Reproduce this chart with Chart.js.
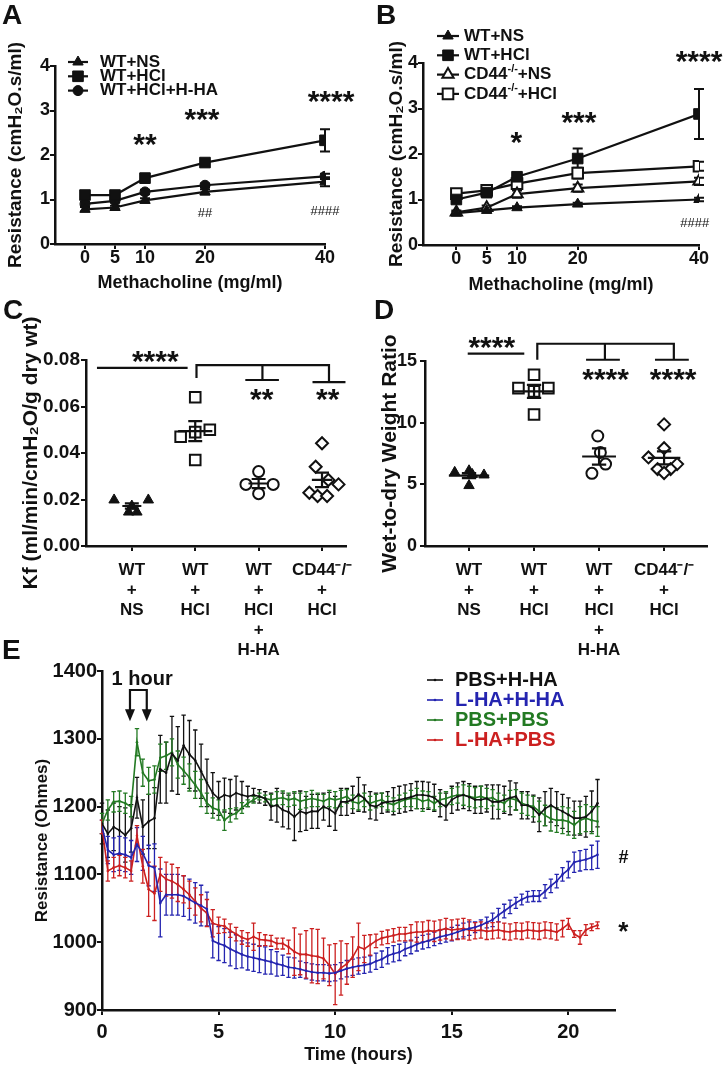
<!DOCTYPE html>
<html>
<head>
<meta charset="utf-8">
<script src="https://cdn.jsdelivr.net/npm/chart.js@4.4.1/dist/chart.umd.min.js"></script>
<style>
html,body{margin:0;padding:0;background:#fff}
body{position:relative;width:723px;height:1067px;overflow:hidden}
canvas{position:absolute}
.pl{position:absolute;font:bold 28px "Liberation Sans",Arial,sans-serif;color:#111;line-height:28px}
</style>
</head>
<body>
<canvas id="cA" width="362" height="300" style="left:0;top:0"></canvas>
<canvas id="cB" width="361" height="300" style="left:362px;top:0"></canvas>
<canvas id="cC" width="362" height="370" style="left:0;top:300px"></canvas>
<canvas id="cD" width="361" height="370" style="left:362px;top:300px"></canvas>
<canvas id="cE" width="723" height="477" style="left:0;top:590px"></canvas>
<div class="pl" style="left:2px;top:1px">A</div>
<div class="pl" style="left:376px;top:1px">B</div>
<div class="pl" style="left:3px;top:296px">C</div>
<div class="pl" style="left:374px;top:296px">D</div>
<div class="pl" style="left:2px;top:636px">E</div>
<script>
// ---------------- DATA ----------------
// Panels A & B: airway resistance vs methacholine dose
const doses = [0, 5, 10, 20, 40];
const aWTNS = [0.78, 0.82, 0.98, 1.17, 1.40];
const aWTNSErr = [0.05, 0.04, 0.05, 0.06, 0.10];
const aWTHCl = [1.10, 1.10, 1.48, 1.83, 2.33];
const aWTHClErr = [0.06, 0.06, 0.10, 0.08, 0.25];
const aWTHClHHA = [0.90, 0.97, 1.17, 1.32, 1.52];
const aWTHClHHAErr = [0.05, 0.04, 0.05, 0.04, 0.06];

const bWTNS = [0.70, 0.76, 0.82, 0.90, 1.00];
const bWTNSErr = [0.03, 0.03, 0.03, 0.03, 0.04];
const bWTHCl = [1.00, 1.15, 1.50, 1.90, 2.88];
const bWTHClErr = [0.05, 0.06, 0.08, 0.22, 0.55];
const bCDNS = [0.72, 0.82, 1.12, 1.25, 1.40];
const bCDNSErr = [0.04, 0.05, 0.08, 0.08, 0.08];
const bCDHCl = [1.13, 1.20, 1.35, 1.58, 1.73];
const bCDHClErr = [0.06, 0.06, 0.08, 0.12, 0.10];

// Panels C & D: groups
const groupPos = [0, 1, 2, 3];
const groupLabels = [['WT','+','NS'], ['WT','+','HCl'], ['WT','+','HCl','+','H-HA'], ['CD44⁻/⁻','+','HCl']];
const kfWTNS = [0.0198, 0.0146, 0.0146, 0.0198, 0.0172];
const kfWTNSJit = [-0.28, -0.05, 0.08, 0.26, 0];
const kfWTHCl = [0.064, 0.047, 0.049, 0.050, 0.037];
const kfWTHClJit = [0, -0.23, 0, 0.23, 0];
const kfHHA = [0.032, 0.0265, 0.0265, 0.0225];
const kfHHAJit = [0, -0.2, 0.23, 0];
const kfCD44 = [0.0442, 0.0341, 0.0284, 0.0265, 0.0229, 0.0215, 0.0215];
const kfCD44Jit = [0, -0.1, 0.1, 0.26, -0.2, -0.07, 0.08];

const wdWTNS = [5.97, 6.10, 5.76, 4.90, 5.80];
const wdWTNSJit = [-0.22, 0, 0.23, 0, 0.05];
const wdWTHCl = [13.88, 12.80, 12.80, 12.54, 10.66];
const wdWTHClJit = [0, -0.24, 0.22, 0, 0];
const wdHHA = [8.92, 7.58, 6.64, 5.89];
const wdHHAJit = [-0.02, 0.02, 0.1, -0.11];
const wdCD44 = [9.86, 7.93, 7.18, 6.64, 6.24, 6.24, 5.92];
const wdCD44Jit = [0, 0, -0.24, 0.2, -0.1, 0.1, 0];

// Panel E: resistance over time
const timeHours = [0,0.25,0.5,0.75,1,1.25,1.5,1.75,2,2.25,2.5,2.75,3,3.25,3.5,3.75,4,4.25,4.5,4.75,
 5,5.25,5.5,5.75,6,6.25,6.5,6.75,7,7.25,7.5,7.75,8,8.25,8.5,8.75,9,9.25,9.5,9.75,
 10,10.25,10.5,10.75,11,11.25,11.5,11.75,12,12.25,12.5,12.75,13,13.25,13.5,13.75,14,14.25,14.5,14.75,
 15,15.25,15.5,15.75,16,16.25,16.5,16.75,17,17.25,17.5,17.75,18,18.25,18.5,18.75,19,19.25,19.5,19.75,
 20,20.25,20.5,20.75,21,21.25];
const eTicks = [0, 5, 10, 15, 20];
const ePbsHha = [1175,1160,1170,1165,1158,1168,1213,1170,1178,1183,
 1255,1250,1278,1268,1290,1277,1268,1252,1235,1220,
 1212,1217,1215,1220,1217,1215,1217,1215,1212,1200,
 1202,1195,1192,1185,1193,1190,1193,1193,1200,1196,
 1190,1207,1207,1210,1218,1212,1202,1200,1205,1207,
 1208,1210,1212,1214,1217,1217,1216,1213,1205,1200,
 1210,1215,1217,1214,1210,1210,1212,1207,1207,1210,
 1213,1215,1202,1202,1197,1188,1197,1202,1197,1193,
 1188,1183,1183,1185,1193,1205];
const ePbsHhaErr = [30,35,35,35,40,35,30,40,40,45,
 50,45,55,50,45,50,45,40,35,30,
 25,25,25,25,20,15,10,10,10,20,
 25,25,25,35,30,25,25,25,20,25,
 25,20,20,20,25,20,20,20,15,15,
 20,20,20,20,20,20,20,20,20,20,
 20,20,20,20,20,20,20,25,25,20,
 25,20,20,20,20,25,25,25,25,25,
 25,25,25,30,30,35];
const eLhaHha = [1170,1136,1129,1131,1129,1125,1144,1131,1113,1110,
 1058,1070,1070,1070,1068,1063,1058,1054,1049,1002,
 998,995,990,986,982,979,977,975,973,971,
 968,966,963,962,960,958,956,955,955,954,
 955,958,961,963,965,966,968,972,975,980,
 983,985,990,993,997,1000,1002,1005,1008,1010,
 1012,1015,1018,1020,1022,1025,1029,1033,1040,1046,
 1052,1058,1063,1067,1068,1068,1075,1083,1090,1100,
 1107,1118,1120,1122,1125,1129];
const eLhaHhaErr = [10,20,25,25,25,25,25,25,30,35,
 50,30,30,30,30,30,30,30,25,25,
 25,25,25,25,20,20,20,20,20,18,
 18,15,15,15,12,12,12,12,12,12,
 12,12,12,12,12,12,12,12,12,12,
 12,12,10,10,10,10,10,10,10,10,
 10,10,10,10,8,8,8,10,10,10,
 10,8,8,8,8,8,10,10,10,10,
 12,15,15,15,18,20];
const ePbsPbs = [1175,1195,1207,1208,1205,1200,1295,1250,1238,1240,
 1272,1275,1280,1262,1253,1243,1232,1220,1205,1198,
 1195,1180,1187,1190,1198,1205,1210,1215,1212,1210,
 1212,1213,1210,1212,1208,1210,1212,1210,1208,1212,
 1210,1212,1215,1207,1205,1210,1205,1208,1210,1205,
 1203,1207,1210,1212,1212,1208,1210,1205,1210,1212,
 1215,1217,1217,1215,1213,1215,1212,1213,1208,1205,
 1212,1210,1205,1202,1200,1193,1187,1182,1180,1180,
 1178,1173,1180,1183,1180,1178];
const ePbsPbsErr = [15,15,15,15,15,15,20,20,20,20,
 20,20,20,20,20,20,20,20,15,15,
 15,15,10,8,8,5,5,5,5,8,
 10,10,10,10,12,12,12,10,10,12,
 12,12,10,10,10,10,10,10,10,10,
 10,10,10,12,15,15,12,10,10,10,
 12,12,15,15,15,15,15,12,12,12,
 12,15,15,15,15,15,15,18,18,20,
 20,20,20,20,20,22];
const eLhaPbs = [1170,1105,1110,1113,1110,1105,1157,1112,1078,1072,
 1100,1093,1090,1085,1078,1070,1060,1050,1043,1028,
 1025,1024,1017,1012,1007,1004,1008,1004,1003,1002,
 998,998,993,986,982,982,980,979,976,966,
 953,962,968,978,993,990,996,1002,1006,1008,
 1010,1012,1012,1014,1015,1015,1017,1016,1018,1020,
 1018,1019,1020,1018,1017,1018,1016,1017,1018,1016,
 1015,1017,1016,1018,1017,1016,1018,1017,1015,1020,
 1027,1012,1007,1018,1022,1025];
const eLhaPbsErr = [10,15,15,15,15,15,15,25,40,40,
 25,25,25,25,20,20,20,20,20,20,
 12,10,10,10,10,10,20,10,8,8,
 8,8,10,35,30,35,40,40,30,30,
 45,40,30,30,35,20,15,10,10,10,
 10,10,10,12,15,15,15,15,15,15,
 15,15,15,15,12,12,12,12,12,12,
 12,12,12,12,12,12,12,12,12,12,
 8,5,10,8,5,5];

// ---------------- HELPERS ----------------
const FF = '"Liberation Sans", Arial, Helvetica, sans-serif';
const INK = '#111111';
Chart.defaults.font.family = FF;
Chart.defaults.color = INK;

function drawRich(ctx, text, x, y, size, color) {
  const parts = String(text).split(/(-\/-)/);
  let cx = x;
  ctx.fillStyle = color;
  ctx.textBaseline = 'middle';
  ctx.textAlign = 'left';
  parts.forEach(p => {
    if (!p) return;
    const sup = p === '-/-';
    const fs = sup ? Math.round(size * 0.62) : size;
    ctx.font = 'bold ' + fs + 'px ' + FF;
    ctx.fillText(p, cx, sup ? y - size * 0.36 : y);
    cx += ctx.measureText(p).width;
  });
}

const errorBars = {
  id: 'errorBars',
  beforeDatasetsDraw(chart, args, o) {
    const ctx = chart.ctx, Y = chart.scales.y;
    ctx.save();
    chart.data.datasets.forEach((ds, i) => {
      if (!ds.errors) return;
      const meta = chart.getDatasetMeta(i);
      ctx.strokeStyle = ds.borderColor;
      ctx.lineWidth = o.width;
      meta.data.forEach((pt, j) => {
        const v = ds.data[j].y, e = ds.errors[j];
        const y1 = Y.getPixelForValue(v + e), y2 = Y.getPixelForValue(v - e);
        ctx.beginPath();
        ctx.moveTo(pt.x, y1); ctx.lineTo(pt.x, y2);
        ctx.moveTo(pt.x - o.cap, y1); ctx.lineTo(pt.x + o.cap, y1);
        ctx.moveTo(pt.x - o.cap, y2); ctx.lineTo(pt.x + o.cap, y2);
        ctx.stroke();
      });
    });
    ctx.restore();
  }
};

const meanSem = {
  id: 'meanSem',
  afterDatasetsDraw(chart, args, o) {
    const ctx = chart.ctx, X = chart.scales.x, Y = chart.scales.y;
    ctx.save();
    ctx.strokeStyle = INK; ctx.lineWidth = o.width;
    chart.data.datasets.forEach((ds, i) => {
      const vals = ds.data.map(d => d.y), n = vals.length;
      const mean = vals.reduce((a, b) => a + b, 0) / n;
      const sd = Math.sqrt(vals.reduce((a, b) => a + (b - mean) * (b - mean), 0) / (n - 1));
      const sem = sd / Math.sqrt(n);
      const c = ds.group, h = o.half[i];
      const ym = Y.getPixelForValue(mean), yt = Y.getPixelForValue(mean + sem), yb = Y.getPixelForValue(mean - sem);
      const px = v => X.getPixelForValue(v);
      ctx.beginPath();
      ctx.moveTo(px(c - h), ym); ctx.lineTo(px(c + h), ym);
      ctx.moveTo(px(c), yt); ctx.lineTo(px(c), yb);
      ctx.moveTo(px(c - o.cap), yt); ctx.lineTo(px(c + o.cap), yt);
      ctx.moveTo(px(c - o.cap), yb); ctx.lineTo(px(c + o.cap), yb);
      ctx.stroke();
    });
    ctx.restore();
  }
};

const ownLegend = {
  id: 'ownLegend',
  afterDraw(chart, args, o) {
    if (!o || o.x == null) return;
    const ctx = chart.ctx;
    ctx.save();
    chart.data.datasets.forEach((ds, i) => {
      const y = o.y + i * o.gap;
      ctx.strokeStyle = ds.borderColor; ctx.lineWidth = o.lineWidth;
      ctx.beginPath(); ctx.moveTo(o.x - o.half, y); ctx.lineTo(o.x + o.half, y); ctx.stroke();
      ctx.fillStyle = ds.pointBackgroundColor;
      ctx.strokeStyle = ds.pointBorderColor || ds.borderColor;
      ctx.lineWidth = ds.pointBorderWidth;
      Chart.helpers.drawPoint(ctx, {pointStyle: ds.pointStyle, radius: o.radius || ds.pointRadius, borderWidth: ds.pointBorderWidth, rotation: 0}, o.x, y);
      drawRich(ctx, ds.label, o.textX, y, o.size, o.colored ? ds.borderColor : INK);
    });
    ctx.restore();
  }
};

const annot = {
  id: 'annot',
  afterDraw(chart, args, o) {
    const ctx = chart.ctx, X = chart.scales.x, Y = chart.scales.y;
    const px = v => X.getPixelForValue(v), py = v => Y.getPixelForValue(v);
    ctx.save();
    (o.items || []).forEach(it => {
      if (it.type === 'text') {
        ctx.font = (it.weight || 'bold') + ' ' + it.size + 'px ' + FF;
        ctx.fillStyle = it.color || INK;
        ctx.textAlign = 'center'; ctx.textBaseline = 'alphabetic';
        const m = ctx.measureText(it.text);
        ctx.fillText(it.text, px(it.x), py(it.y) + (m.actualBoundingBoxAscent - m.actualBoundingBoxDescent) / 2);
      } else if (it.type === 'path') {
        ctx.strokeStyle = INK; ctx.lineWidth = it.width || 2.2;
        ctx.beginPath();
        it.pts.forEach((p, k) => k ? ctx.lineTo(px(p[0]), py(p[1])) : ctx.moveTo(px(p[0]), py(p[1])));
        ctx.stroke();
      } else if (it.type === 'arrow') {
        const x = px(it.x), y = py(it.y);
        ctx.fillStyle = INK;
        ctx.beginPath();
        ctx.moveTo(x, y); ctx.lineTo(x - it.w, y - it.h); ctx.lineTo(x + it.w, y - it.h); ctx.closePath();
        ctx.fill();
      }
    });
    ctx.restore();
  }
};

const gridTicks = {drawOnChartArea: false, drawTicks: true, tickLength: 5, color: INK, lineWidth: 2};
const axisBorder = {display: true, color: INK, width: 2.5};
const bold = (size, lh) => ({size: size, weight: 'bold', lineHeight: lh || 1.0});

function doseSeries(label, vals, errs, style, filled, r) {
  return {label: label, data: vals.map((v, i) => ({x: doses[i], y: v})), errors: errs,
    borderColor: INK, borderWidth: 2.2, pointStyle: style, pointRadius: r,
    pointBackgroundColor: filled ? INK : '#ffffff', pointBorderColor: INK,
    pointBorderWidth: filled ? 1 : 2, tension: 0, fill: false};
}

function doseScales(xmin, xH, yW, yTitlePad, xTitlePad) {
  return {
    x: {type: 'linear', min: xmin, max: 40,
      afterBuildTicks: s => { s.ticks = doses.map(v => ({value: v})); },
      afterFit: s => { s.height = xH; },
      grid: gridTicks, border: axisBorder,
      ticks: {font: bold(18), color: INK, padding: 0, maxRotation: 0, autoSkip: false},
      title: {display: true, text: 'Methacholine (mg/ml)', font: {size: 18, weight: 'bold', lineHeight: 1.2}, color: INK, padding: {top: 0, bottom: xTitlePad}}},
    y: {min: 0, max: 4,
      afterFit: s => { s.width = yW; },
      grid: gridTicks, border: axisBorder,
      ticks: {stepSize: 1, font: bold(18), color: INK, padding: 0},
      title: {display: true, text: 'Resistance (cmH₂O.s/ml)', font: {size: 19, weight: 'bold', lineHeight: 1.2}, color: INK, padding: {top: yTitlePad, bottom: 0}}}
  };
}

function groupSeries(label, vals, jit, g, style, filled, r) {
  return {label: label, group: g, data: vals.map((v, i) => ({x: groupPos[g] + jit[i], y: v})),
    pointStyle: style, pointRadius: r, pointBackgroundColor: filled ? INK : '#ffffff',
    pointBorderColor: INK, pointBorderWidth: filled ? 1 : 2, borderColor: INK};
}

function groupScales(xmin, xmax, yW, yMax, yStep, yFmt, yTitle, yTitlePad, yPad, yFont) {
  return {
    x: {type: 'linear', min: xmin, max: xmax,
      afterBuildTicks: s => { s.ticks = groupPos.map(v => ({value: v})); },
      afterFit: s => { s.height = 124; },
      grid: gridTicks, border: axisBorder,
      ticks: {callback: v => groupLabels[v], font: bold(17, 1.18), color: INK, padding: 9, maxRotation: 0, autoSkip: false}},
    y: {min: 0, max: yMax,
      afterFit: s => { s.width = yW; },
      grid: gridTicks, border: axisBorder,
      ticks: {stepSize: yStep, callback: yFmt, font: bold(yFont), color: INK, padding: yPad},
      title: {display: true, text: yTitle, font: {size: 21, weight: 'bold', lineHeight: 1.2}, color: INK, padding: {top: yTitlePad, bottom: 0}}}
  };
}

const base = {responsive: false, animation: false, events: [], devicePixelRatio: 1};

// ---------------- PANEL A ----------------
new Chart(document.getElementById('cA'), {
  type: 'line',
  data: {datasets: [
    doseSeries('WT+NS', aWTNS, aWTNSErr, 'triangle', true, 6),
    doseSeries('WT+HCl', aWTHCl, aWTHClErr, 'rect', true, 7.5),
    doseSeries('WT+HCl+H-HA', aWTHClHHA, aWTHClHHAErr, 'circle', true, 5)
  ]},
  options: Object.assign({}, base, {
    layout: {padding: {left: 0, top: 66, right: 37, bottom: 0}},
    scales: doseScales(-5, 56, 55, 4.6, 6.2),
    plugins: {legend: {display: false}, tooltip: {enabled: false},
      errorBars: {width: 2, cap: 5},
      ownLegend: {x: 78, y: 62, gap: 14.3, half: 10, textX: 100, size: 17, lineWidth: 2.2},
      annot: {items: [
        {type: 'text', x: 10, y: 2.34, text: '**', size: 30},
        {type: 'text', x: 19.5, y: 2.9, text: '***', size: 30},
        {type: 'text', x: 41, y: 3.3, text: '****', size: 30},
        {type: 'text', x: 20, y: 0.7, text: '##', size: 13, weight: 'normal'},
        {type: 'text', x: 40, y: 0.76, text: '####', size: 13, weight: 'normal'}
      ]}}
  }),
  plugins: [errorBars, ownLegend, annot]
});

// ---------------- PANEL B ----------------
new Chart(document.getElementById('cB'), {
  type: 'line',
  data: {datasets: [
    doseSeries('WT+NS', bWTNS, bWTNSErr, 'triangle', true, 6),
    doseSeries('WT+HCl', bWTHCl, bWTHClErr, 'rect', true, 7.5),
    doseSeries('CD44-/-+NS', bCDNS, bCDNSErr, 'triangle', false, 6.5),
    doseSeries('CD44-/-+HCl', bCDHCl, bCDHClErr, 'rect', false, 7.5)
  ]},
  options: Object.assign({}, base, {
    layout: {padding: {left: 0, top: 63, right: 24, bottom: 0}},
    scales: doseScales(-5.5, 55, 61, 23.6, 4.2),
    plugins: {legend: {display: false}, tooltip: {enabled: false},
      errorBars: {width: 2, cap: 5},
      ownLegend: {x: 86, y: 36, gap: 19.3, half: 11, textX: 102, size: 17, lineWidth: 2.2},
      annot: {items: [
        {type: 'text', x: 9.9, y: 2.35, text: '*', size: 30},
        {type: 'text', x: 20.2, y: 2.8, text: '***', size: 30},
        {type: 'text', x: 40, y: 4.13, text: '****', size: 30},
        {type: 'text', x: 39.3, y: 0.5, text: '####', size: 13, weight: 'normal'}
      ]}}
  }),
  plugins: [errorBars, ownLegend, annot]
});

// ---------------- PANEL C ----------------
new Chart(document.getElementById('cC'), {
  type: 'scatter',
  data: {datasets: [
    groupSeries('WT+NS', kfWTNS, kfWTNSJit, 0, 'triangle', true, 6),
    groupSeries('WT+HCl', kfWTHCl, kfWTHClJit, 1, 'rect', false, 7.5),
    groupSeries('WT+HCl+H-HA', kfHHA, kfHHAJit, 2, 'circle', false, 5.5),
    groupSeries('CD44-/-+HCl', kfCD44, kfCD44Jit, 3, 'rectRot', false, 6)
  ]},
  options: Object.assign({}, base, {
    layout: {padding: {left: 0, top: 60, right: 9, bottom: 0}},
    scales: groupScales(-0.723, 3.385, 86, 0.08, 0.02, v => v.toFixed(2), 'Kf (ml/min/cmH₂O/g dry wt)', 18.4, 1, 19),
    plugins: {legend: {display: false}, tooltip: {enabled: false},
      meanSem: {width: 2.2, cap: 0.11, half: [0.15, 0.27, 0.16, 0.16]},
      annot: {items: [
        {type: 'path', pts: [[-0.55, 0.0766], [0.88, 0.0766]]},
        {type: 'text', x: 0.37, y: 0.0813, text: '****', size: 30},
        {type: 'path', pts: [[1.02, 0.0723], [1.02, 0.0778], [3.11, 0.0778], [3.11, 0.0705]]},
        {type: 'path', pts: [[2.06, 0.0778], [2.06, 0.0714]]},
        {type: 'path', pts: [[1.79, 0.0714], [2.32, 0.0714]]},
        {type: 'path', pts: [[2.85, 0.0705], [3.37, 0.0705]]},
        {type: 'text', x: 2.05, y: 0.065, text: '**', size: 30},
        {type: 'text', x: 3.09, y: 0.065, text: '**', size: 30}
      ]}}
  }),
  plugins: [meanSem, annot]
});

// ---------------- PANEL D ----------------
new Chart(document.getElementById('cD'), {
  type: 'scatter',
  data: {datasets: [
    groupSeries('WT+NS', wdWTNS, wdWTNSJit, 0, 'triangle', true, 6),
    groupSeries('WT+HCl', wdWTHCl, wdWTHClJit, 1, 'rect', false, 7.5),
    groupSeries('WT+HCl+H-HA', wdHHA, wdHHAJit, 2, 'circle', false, 5.5),
    groupSeries('CD44-/-+HCl', wdCD44, wdCD44Jit, 3, 'rectRot', false, 6)
  ]},
  options: Object.assign({}, base, {
    layout: {padding: {left: 0, top: 61, right: 16, bottom: 0}},
    scales: groupScales(-0.677, 3.66, 63, 15, 5, v => String(v), 'Wet-to-dry Weight Ratio', 15.4, 3, 18),
    plugins: {legend: {display: false}, tooltip: {enabled: false},
      meanSem: {width: 2.2, cap: 0.11, half: [0.31, 0.31, 0.26, 0.25]},
      annot: {items: [
        {type: 'path', pts: [[-0.02, 15.6], [0.85, 15.6]]},
        {type: 'text', x: 0.35, y: 16.5, text: '****', size: 30},
        {type: 'path', pts: [[1.05, 15.1], [1.05, 16.4], [3.15, 16.4], [3.15, 15.1]]},
        {type: 'path', pts: [[2.09, 16.4], [2.09, 15.1]]},
        {type: 'path', pts: [[1.8, 15.1], [2.32, 15.1]]},
        {type: 'path', pts: [[2.86, 15.1], [3.38, 15.1]]},
        {type: 'text', x: 2.1, y: 13.9, text: '****', size: 30},
        {type: 'text', x: 3.14, y: 13.9, text: '****', size: 30}
      ]}}
  }),
  plugins: [meanSem, annot]
});

// ---------------- PANEL E ----------------
function timeSeries(label, vals, errs, color) {
  return {label: label, data: vals.map((v, i) => ({x: timeHours[i], y: v})), errors: errs,
    borderColor: color, borderWidth: 1.6, pointStyle: 'circle', pointRadius: 1.3,
    pointBackgroundColor: color, pointBorderColor: color, pointBorderWidth: 0, tension: 0, fill: false};
}
new Chart(document.getElementById('cE'), {
  type: 'line',
  data: {datasets: [
    timeSeries('PBS+H-HA', ePbsHha, ePbsHhaErr, '#111111'),
    timeSeries('L-HA+H-HA', eLhaHha, eLhaHhaErr, '#2424b0'),
    timeSeries('PBS+PBS', ePbsPbs, ePbsPbsErr, '#237a23'),
    timeSeries('L-HA+PBS', eLhaPbs, eLhaPbsErr, '#cc2020')
  ]},
  options: Object.assign({}, base, {
    layout: {padding: {left: 0, top: 81, right: 108, bottom: 0}},
    scales: {
      x: {type: 'linear', min: 0, max: 22,
        afterBuildTicks: s => { s.ticks = eTicks.map(v => ({value: v})); },
        afterFit: s => { s.height = 57; },
        grid: gridTicks, border: axisBorder,
        ticks: {font: bold(20), color: INK, padding: 7, maxRotation: 0, autoSkip: false},
        title: {display: true, text: 'Time (hours)', font: {size: 18, weight: 'bold', lineHeight: 1.2}, color: INK, padding: {top: 0, bottom: 1.2}}},
      y: {min: 900, max: 1400,
        afterFit: s => { s.width = 102; },
        grid: gridTicks, border: axisBorder,
        ticks: {stepSize: 100, callback: v => String(v), font: bold(20), color: INK, padding: 0},
        title: {display: true, text: 'Resistance (Ohmes)', font: {size: 17, weight: 'bold', lineHeight: 1.2}, color: INK, padding: {top: 31.8, bottom: 0}}}
    },
    plugins: {legend: {display: false}, tooltip: {enabled: false},
      errorBars: {width: 1.3, cap: 2.2},
      ownLegend: {x: 435, y: 90, gap: 20, half: 8, textX: 455, size: 20, lineWidth: 1.6, radius: 1.3, colored: true},
      annot: {items: [
        {type: 'text', x: 1.72, y: 1390, text: '1 hour', size: 20},
        {type: 'path', pts: [[1.2, 1338], [1.2, 1372], [1.92, 1372], [1.92, 1338]], width: 2.2},
        {type: 'arrow', x: 1.2, y: 1326, w: 5, h: 12},
        {type: 'arrow', x: 1.92, y: 1326, w: 5, h: 12},
        {type: 'text', x: 22.36, y: 1126, text: '#', size: 18},
        {type: 'text', x: 22.36, y: 1022, text: '*', size: 26}
      ]}}
  }),
  plugins: [errorBars, ownLegend, annot]
});
</script>
</body>
</html>
